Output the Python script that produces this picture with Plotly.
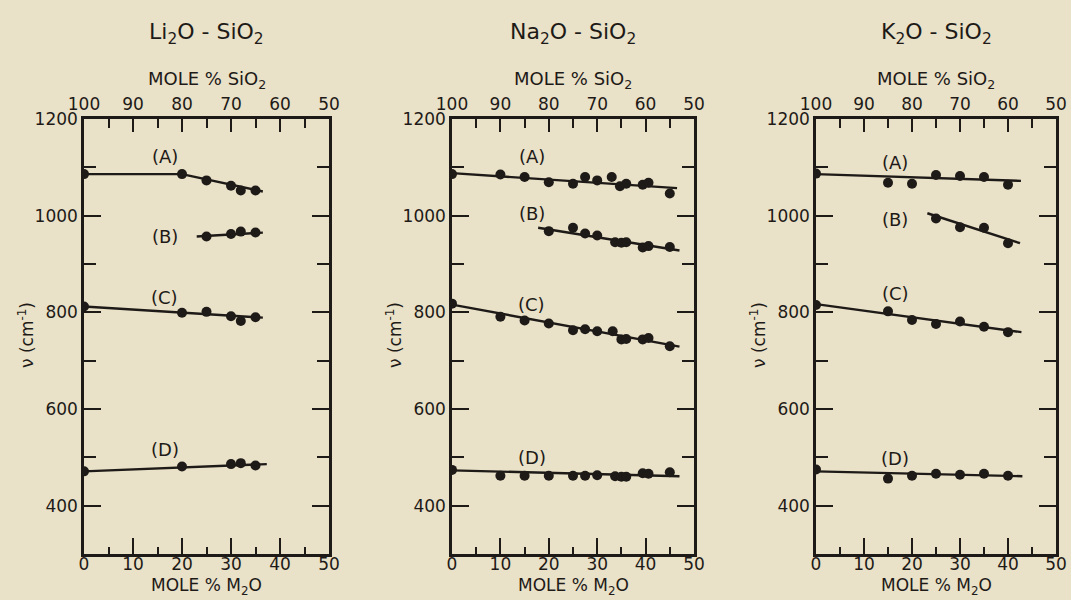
import plotly.graph_objects as go

INK = "#1E1A17"
PAPER = "#E9E1C8"
FONT = "DejaVu Sans"

panel_titles = ["Li<sub>2</sub>O - SiO<sub>2</sub>",
                "Na<sub>2</sub>O - SiO<sub>2</sub>",
                "K<sub>2</sub>O - SiO<sub>2</sub>"]
band_labels = ["(A)", "(B)", "(C)", "(D)"]
top_axis_title = "MOLE % SiO<sub>2</sub>"
bottom_axis_title = "MOLE % M<sub>2</sub>O"
y_axis_title = "ν (cm<sup>-1</sup>)"

# ---------------- Li2O - SiO2 ----------------
li_A_x = [0, 20, 25, 30, 32, 35]
li_A_y = [1086, 1086, 1073, 1062, 1052, 1052]
li_A_fit_x = [0, 20, 36.5]
li_A_fit_y = [1086, 1086, 1050]
li_B_x = [25, 30, 32, 35]
li_B_y = [957, 962, 967, 965]
li_B_fit_x = [23, 36.5]
li_B_fit_y = [957, 965]
li_C_x = [0, 20, 25, 30, 32, 35]
li_C_y = [812, 799, 801, 792, 782, 790]
li_C_fit_x = [0, 36.5]
li_C_fit_y = [812, 789]
li_D_x = [0, 20, 30, 32, 35]
li_D_y = [471, 481, 486, 488, 483]
li_D_fit_x = [0, 37.3]
li_D_fit_y = [471, 486]

# ---------------- Na2O - SiO2 ----------------
na_A_x = [0, 10, 15, 20, 25, 27.5, 30, 33, 34.7, 36, 39.4, 40.6, 45]
na_A_y = [1086, 1085, 1080, 1069, 1066, 1080, 1073, 1080, 1061, 1066, 1064, 1068, 1046]
na_A_fit_x = [0, 46.5]
na_A_fit_y = [1088, 1057]
na_B_x = [20, 25, 27.5, 30, 33.7, 35, 36, 39.4, 40.6, 45]
na_B_y = [968, 975, 963, 959, 945, 944, 945, 934, 937, 935]
na_B_fit_x = [17.8, 47]
na_B_fit_y = [975, 928]
na_C_x = [0, 10, 15, 20, 25, 27.5, 30, 33.2, 35, 36, 39.4, 40.6, 45]
na_C_y = [818, 791, 783, 777, 763, 765, 761, 761, 744, 745, 744, 747, 730]
na_C_fit_x = [0, 47]
na_C_fit_y = [816, 729]
na_D_x = [0, 10, 15, 20, 25, 27.5, 30, 33.7, 35, 36, 39.4, 40.6, 45]
na_D_y = [474, 462, 462, 462, 462, 462, 463, 461, 460, 460, 467, 466, 469]
na_D_fit_x = [0, 47]
na_D_fit_y = [473, 461]

# ---------------- K2O - SiO2 ----------------
k_A_x = [0, 15, 20, 25, 30, 35, 40]
k_A_y = [1087, 1068, 1066, 1084, 1082, 1080, 1064]
k_A_fit_x = [0, 42.7]
k_A_fit_y = [1086, 1072]
k_B_x = [25, 30, 35, 40]
k_B_y = [994, 976, 975, 943]
k_B_fit_x = [23.2, 42.5]
k_B_fit_y = [1005, 943]
k_C_x = [0, 15, 20, 25, 30, 35, 40]
k_C_y = [815, 802, 784, 776, 781, 770, 759]
k_C_fit_x = [0, 42.8]
k_C_fit_y = [817, 759]
k_D_x = [0, 15, 20, 25, 30, 35, 40]
k_D_y = [475, 456, 462, 466, 464, 466, 462]
k_D_fit_x = [0, 43]
k_D_fit_y = [471, 461]

# label anchor positions (data coords) for (A)-(D)
label_x = [16.5, 16.5, 16.5, 16.5]
label_y_li = [1122, 957, 831, 517]
label_y_na = [1122, 1004, 816, 500]
label_y_k = [1111, 992, 838, 498]

panels = [
    ([(li_A_x, li_A_y, li_A_fit_x, li_A_fit_y), (li_B_x, li_B_y, li_B_fit_x, li_B_fit_y),
      (li_C_x, li_C_y, li_C_fit_x, li_C_fit_y), (li_D_x, li_D_y, li_D_fit_x, li_D_fit_y)], label_y_li),
    ([(na_A_x, na_A_y, na_A_fit_x, na_A_fit_y), (na_B_x, na_B_y, na_B_fit_x, na_B_fit_y),
      (na_C_x, na_C_y, na_C_fit_x, na_C_fit_y), (na_D_x, na_D_y, na_D_fit_x, na_D_fit_y)], label_y_na),
    ([(k_A_x, k_A_y, k_A_fit_x, k_A_fit_y), (k_B_x, k_B_y, k_B_fit_x, k_B_fit_y),
      (k_C_x, k_C_y, k_C_fit_x, k_C_fit_y), (k_D_x, k_D_y, k_D_fit_x, k_D_fit_y)], label_y_k),
]

W, H = 1071, 600
x_dom_px = [(84, 329), (452, 694), (816, 1056)]
y_dom = [(H - 554) / H, (H - 119) / H]


def py(px_from_top):
    return (H - px_from_top) / H


fig = go.Figure()
layout = dict(
    template="none",
    width=W, height=H, margin=dict(l=0, r=0, t=0, b=0, autoexpand=False),
    paper_bgcolor=PAPER, plot_bgcolor=PAPER, showlegend=False,
    font=dict(family=FONT, color=INK, size=17),
)
annotations = []

for i, (series, label_ys) in enumerate(panels):
    n = i + 1
    xa = "x" if n == 1 else f"x{n}"
    ya = "y" if n == 1 else f"y{n}"
    xtop = f"x{n + 3}"
    for (sx, sy, fx, fy) in series:
        fig.add_trace(go.Scatter(x=fx, y=fy, mode="lines", xaxis=xa, yaxis=ya,
                                 line=dict(color=INK, width=2.4), hoverinfo="skip"))
        fig.add_trace(go.Scatter(x=sx, y=sy, mode="markers", xaxis=xa, yaxis=ya,
                                 marker=dict(color=INK, size=10, line=dict(width=0))))
    # invisible trace to activate top axis
    fig.add_trace(go.Scatter(x=[100, 50], y=[None, None], mode="markers", xaxis=xtop, yaxis=ya,
                             marker=dict(opacity=0), hoverinfo="skip"))
    dom = [x_dom_px[i][0] / W, x_dom_px[i][1] / W]
    cx = (dom[0] + dom[1]) / 2
    key = "xaxis" if n == 1 else f"xaxis{n}"
    ykey = "yaxis" if n == 1 else f"yaxis{n}"
    layout[key] = dict(
        domain=dom, anchor=ya, range=[0, 50], tickmode="linear", tick0=0, dtick=10,
        ticks="inside", ticklen=16, tickwidth=2, tickcolor=INK,
        minor=dict(dtick=5, tick0=0, ticks="inside", ticklen=7, tickwidth=2, tickcolor=INK),
        showline=True, linecolor=INK, linewidth=2.5, mirror=True, automargin=False,
        showgrid=False, zeroline=False, ticklabelstandoff=-7,
        tickfont=dict(size=17, family=FONT, color=INK),
    )
    layout[f"xaxis{n + 3}"] = dict(
        domain=dom, anchor=ya, overlaying=xa, side="top", range=[100, 50],
        tickmode="linear", tick0=100, dtick=10,
        ticks="inside", ticklen=13, tickwidth=2, tickcolor=INK,
        minor=dict(dtick=5, tick0=100, ticks="inside", ticklen=9, tickwidth=2, tickcolor=INK),
        showline=False, showgrid=False, zeroline=False, ticklabelstandoff=5, automargin=False,
        tickfont=dict(size=17, family=FONT, color=INK),
    )
    layout[ykey] = dict(
        domain=list(y_dom), anchor=xa, range=[300, 1200], tickmode="linear", tick0=0, dtick=200,
        ticks="inside", ticklen=17, tickwidth=2, tickcolor=INK,
        minor=dict(dtick=100, tick0=0, ticks="inside", ticklen=12, tickwidth=2, tickcolor=INK),
        showline=True, linecolor=INK, linewidth=2.5, mirror="ticks", automargin=False,
        showgrid=False, zeroline=False,
        tickfont=dict(size=17, family=FONT, color=INK),
    )
    # panel title
    annotations.append(dict(text=panel_titles[i], x=cx, y=py(34), xanchor="center", yanchor="middle",
                            xref="paper", yref="paper", showarrow=False,
                            font=dict(size=22, family=FONT, color=INK)))
    # axis titles
    annotations.append(dict(text=top_axis_title, x=cx, y=py(80), xanchor="center", yanchor="middle",
                            xref="paper", yref="paper",
                            showarrow=False, font=dict(size=18, family=FONT, color=INK)))
    annotations.append(dict(text=bottom_axis_title, x=cx, y=py(586), xanchor="center", yanchor="middle",
                            xref="paper", yref="paper",
                            showarrow=False, font=dict(size=17, family=FONT, color=INK)))
    annotations.append(dict(text=y_axis_title, x=(x_dom_px[i][0] - 58) / W, y=py(335),
                            xanchor="center", yanchor="middle",
                            xref="paper", yref="paper", showarrow=False, textangle=-90,
                            font=dict(size=17, family=FONT, color=INK)))
    for lab, lx, ly in zip(band_labels, label_x, label_ys):
        annotations.append(dict(text=lab, x=lx, y=ly, xref=xa, yref=ya, showarrow=False,
                                font=dict(size=18, family=FONT, color=INK)))

layout["annotations"] = annotations
fig.update_layout(**layout)
fig.write_html("out.html", config={"displayModeBar": False},
               post_script="document.body.style.margin='0';document.body.style.overflow='hidden';")
